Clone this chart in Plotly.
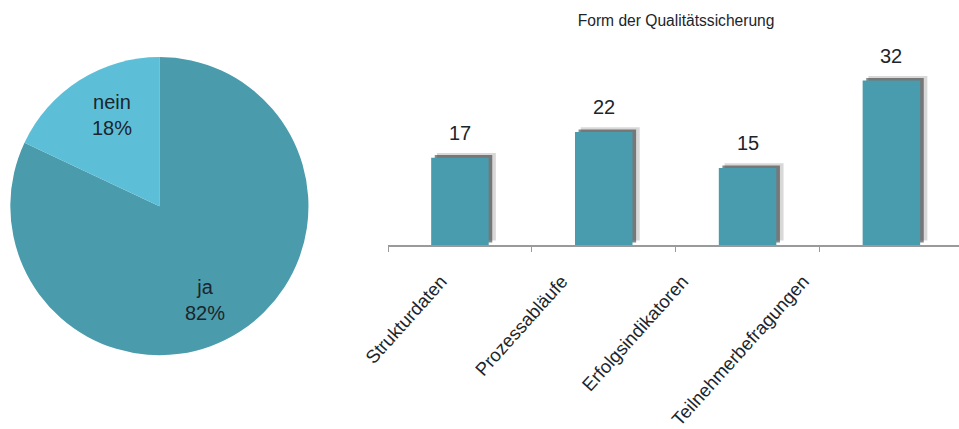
import plotly.graph_objects as go

# pie data
pie_labels = ['ja', 'nein']
pie_values = [82, 18]
# where the pie labels sit (paper coords)
pie_label_pos = {'ja': (0.2138, 0.3007), 'nein': (0.1168, 0.7319)}

# bar data
categories = ['Strukturdaten', 'Prozessabläufe', 'Erfolgsindikatoren', 'Teilnehmerbefragungen']
counts = [17, 22, 15, 32]

title_text = 'Form der Qualitätssicherung'

BAR_COLOR = '#499cad'
TEXT_COLOR = '#1c252b'
FONT = 'Liberation Sans, Arial, sans-serif'

fig = go.Figure()

fig.add_trace(go.Pie(
    labels=pie_labels,
    values=pie_values,
    sort=False,
    direction='clockwise',
    rotation=0,
    marker=dict(colors=['#4a9bac', '#5dbfd7']),
    textinfo='none',
    domain=dict(x=[0.0094, 0.323], y=[0.172, 0.867]),
    showlegend=False,
    hoverinfo='label+percent',
))

total = sum(pie_values)
for lab, val in zip(pie_labels, pie_values):
    px, py = pie_label_pos[lab]
    fig.add_annotation(
        x=px, y=py, xref='paper', yref='paper', showarrow=False,
        xanchor='center', yanchor='middle',
        text=f'{lab}<br>{round(100 * val / total)}%',
        font=dict(size=20, color=TEXT_COLOR, family=FONT),
    )

# soft shadow behind the bars (two layers to fake a blur)
fig.add_trace(go.Bar(
    x=categories, y=counts, base=0.9,
    width=0.41, offset=-0.16,
    marker=dict(color='rgba(60,60,60,0.2)', line=dict(width=0)),
    hoverinfo='skip', showlegend=False,
))
fig.add_trace(go.Bar(
    x=categories, y=counts, base=0.5,
    width=0.4, offset=-0.175,
    marker=dict(color='rgba(40,40,40,0.55)', line=dict(width=0)),
    hoverinfo='skip', showlegend=False,
))

fig.add_trace(go.Bar(
    x=categories, y=counts,
    width=0.4, offset=-0.2,
    marker=dict(color=BAR_COLOR, line=dict(width=0)),
    showlegend=False,
))

# invisible trace to drive the tick labels on the second x axis
fig.add_trace(go.Scatter(
    x=categories, y=[0] * len(categories), xaxis='x2', yaxis='y',
    mode='markers', marker=dict(opacity=0), hoverinfo='skip', showlegend=False,
))

for c, v in zip(categories, counts):
    fig.add_annotation(
        x=c, y=v, xref='x', yref='y', text=str(v), showarrow=False,
        yanchor='bottom', yshift=12,
        font=dict(size=20, color=TEXT_COLOR, family=FONT),
    )

fig.update_layout(
    width=959, height=429,
    margin=dict(l=0, r=0, t=0, b=0, pad=0, autoexpand=False),
    paper_bgcolor='white', plot_bgcolor='white',
    barmode='overlay',
    title=dict(text=title_text, x=0.705, y=0.953, xanchor='center', yanchor='middle',
               automargin=False,
               font=dict(size=15.6, color=TEXT_COLOR, family=FONT)),
    xaxis=dict(
        domain=[0.4046, 1.0], range=[-0.5, 3.47], automargin=False,
        showline=True, linecolor='#9a9a9a', linewidth=1.5,
        ticks='outside', tickson='boundaries', ticklen=5, tickcolor='#9a9a9a',
        showticklabels=False, showgrid=False, zeroline=False, fixedrange=True,
    ),
    xaxis2=dict(
        domain=[0.4046, 1.0], range=[-0.44, 4.29], overlaying='x', anchor='y', side='bottom',
        automargin=False,
        categoryorder='array', categoryarray=categories,
        showline=False, ticks='', showgrid=False, zeroline=False,
        tickangle=-48, ticklabelstandoff=21,
        tickfont=dict(size=18.5, color=TEXT_COLOR, family=FONT),
    ),
    yaxis=dict(
        domain=[0.4289, 0.848], range=[0, 35], automargin=False,
        visible=False, showgrid=False, zeroline=False,
    ),
)

fig.write_html('out.html', config={'displayModeBar': False},
               post_script="document.body.style.margin='0';")
